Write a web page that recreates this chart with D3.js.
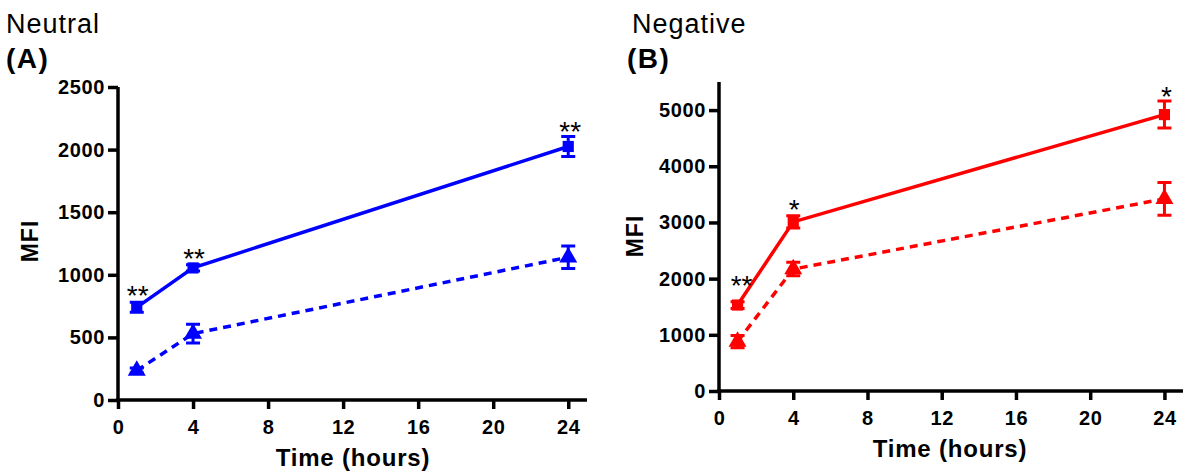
<!DOCTYPE html>
<html>
<head>
<meta charset="utf-8">
<script src="https://cdn.jsdelivr.net/npm/d3@7"></script>
<style>
  body { margin: 0; background: #fff; }
  text { font-family: "Liberation Sans", Arial, sans-serif; }
</style>
</head>
<body>
<div id="chart"></div>
<script>
// data
const times = [1, 4, 24];

const neutralSolid = [740, 1055, 2025];
const neutralSolidErr = [40, 25, 80];
const neutralDashed = [235, 530, 1140];
const neutralDashedErr = [20, 75, 90];
const neutralStars = ["**", "**", "**"];

const negativeSolid = [1530, 3010, 4920];
const negativeSolidErr = [60, 110, 240];
const negativeDashed = [880, 2170, 3420];
const negativeDashedErr = [110, 120, 290];
const negativeStars = ["**", "*", "*"];

const xTicks = [0, 4, 8, 12, 16, 20, 24];
const neutralYTicks = [0, 500, 1000, 1500, 2000, 2500];
const negativeYTicks = [0, 1000, 2000, 3000, 4000, 5000];

const svg = d3.select("#chart").append("svg")
    .attr("width", 1185)
    .attr("height", 474);

function panel(opt) {
  let x = d3.scaleLinear().domain([0, 25]).range([opt.left, opt.right]);
  let y = d3.scaleLinear().domain([0, opt.yMax]).range([opt.bottom, opt.top]);

  // titles
  svg.append("text").attr("x", opt.titleX).attr("y", 33)
      .attr("font-size", 27).attr("letter-spacing", "1px").text(opt.title);
  svg.append("text").attr("x", opt.letterX).attr("y", 68)
      .attr("font-size", 28).attr("font-weight", "bold")
      .attr("letter-spacing", "1.5px").text(opt.letter);

  // axes
  let xAxis = svg.append("g")
      .attr("transform", `translate(0,${opt.bottom})`)
      .call(d3.axisBottom(x).tickValues(xTicks).tickFormat(d3.format("d"))
        .tickSize(9).tickPadding(11).tickSizeOuter(0));
  let yAxis = svg.append("g")
      .attr("transform", `translate(${opt.left},0)`)
      .call(d3.axisLeft(y).tickValues(opt.yTicks).tickFormat(d3.format("d"))
        .tickSize(10).tickPadding(3).tickSizeOuter(0));

  [xAxis, yAxis].forEach(function(g) {
    g.select(".domain").attr("stroke", "#000").attr("stroke-width", 3.5);
    g.selectAll(".tick line").attr("stroke", "#000").attr("stroke-width", 3.5);
    g.selectAll(".tick text")
        .attr("fill", "#000")
        .attr("font-size", 20)
        .attr("font-weight", "bold")
        .attr("letter-spacing", "0.6px")
        .style("font-family", "'Liberation Sans', Arial, sans-serif");
  });
  xAxis.select(".domain").attr("d", `M${opt.left - 2},0H${opt.right}`);
  yAxis.select(".domain").attr("d", `M0,${opt.top}V${opt.bottom + 2}`);

  // axis labels
  svg.append("text")
      .attr("x", opt.xLabelX).attr("y", opt.xLabelY)
      .attr("text-anchor", "middle")
      .attr("font-size", 24).attr("font-weight", "bold")
      .attr("letter-spacing", "0.8px")
      .text("Time (hours)");
  svg.append("text")
      .attr("transform", `translate(${opt.yLabelX},${opt.yLabelY}) rotate(-90)`)
      .attr("text-anchor", "middle")
      .attr("font-size", 23).attr("font-weight", "bold")
      .attr("letter-spacing", "1px")
      .text("MFI");

  let line = d3.line().x((d, i) => x(times[i])).y(d => y(d));

  function series(vals, errs, dashed, shape) {
    let g = svg.append("g");
    g.append("path")
        .datum(vals)
        .attr("d", line)
        .attr("fill", "none")
        .attr("stroke", opt.color)
        .attr("stroke-width", 3.5)
        .attr("stroke-dasharray", dashed ? "8,6" : null);

    // error bars
    vals.forEach(function(v, i) {
      let cx = x(times[i]);
      let top = y(v + errs[i]), bot = y(v - errs[i]);
      g.append("path")
          .attr("d", `M${cx},${top}V${bot}M${cx - 7},${top}H${cx + 7}M${cx - 7},${bot}H${cx + 7}`)
          .attr("stroke", opt.color)
          .attr("stroke-width", 3)
          .attr("fill", "none");
    });

    g.selectAll(".mark")
        .data(vals)
        .enter().append("path")
        .attr("transform", (d, i) => `translate(${x(times[i])},${y(d)})`)
        .attr("d", d3.symbol().type(shape).size(shape === d3.symbolSquare ? 125 : 140))
        .attr("fill", opt.color);
  }

  series(opt.dashed, opt.dashedErr, true, d3.symbolTriangle);
  series(opt.solid, opt.solidErr, false, d3.symbolSquare);

  // significance stars, placed just above the solid series' error bars
  svg.selectAll(null)
      .data(opt.stars)
      .enter().append("text")
      .attr("x", (d, i) => x(times[i]) + opt.starDx[i])
      .attr("y", (d, i) => y(opt.solid[i] + opt.solidErr[i]) + opt.starDy[i])
      .attr("text-anchor", "middle")
      .attr("font-size", 28)
      .text(d => d);
}

panel({
  title: "Neutral", letter: "(A)", titleX: 6, letterX: 6,
  left: 118, right: 587, top: 87, bottom: 400,
  yMax: 2500, yTicks: neutralYTicks, color: "#0000ff",
  solid: neutralSolid, solidErr: neutralSolidErr,
  dashed: neutralDashed, dashedErr: neutralDashedErr,
  stars: neutralStars, starDx: [1, 1, 2], starDy: [3, 3, 5],
  xLabelX: 353, xLabelY: 466, yLabelX: 38, yLabelY: 241
});

panel({
  title: "Negative", letter: "(B)", titleX: 632, letterX: 627,
  left: 719, right: 1183, top: 82, bottom: 391,
  yMax: 5500, yTicks: negativeYTicks, color: "#ff0000",
  solid: negativeSolid, solidErr: negativeSolidErr,
  dashed: negativeDashed, dashedErr: negativeDashedErr,
  stars: negativeStars, starDx: [4, 1, 2], starDy: [-7, 3, 5],
  xLabelX: 950, xLabelY: 457, yLabelX: 643, yLabelY: 236
});
</script>
</body>
</html>
